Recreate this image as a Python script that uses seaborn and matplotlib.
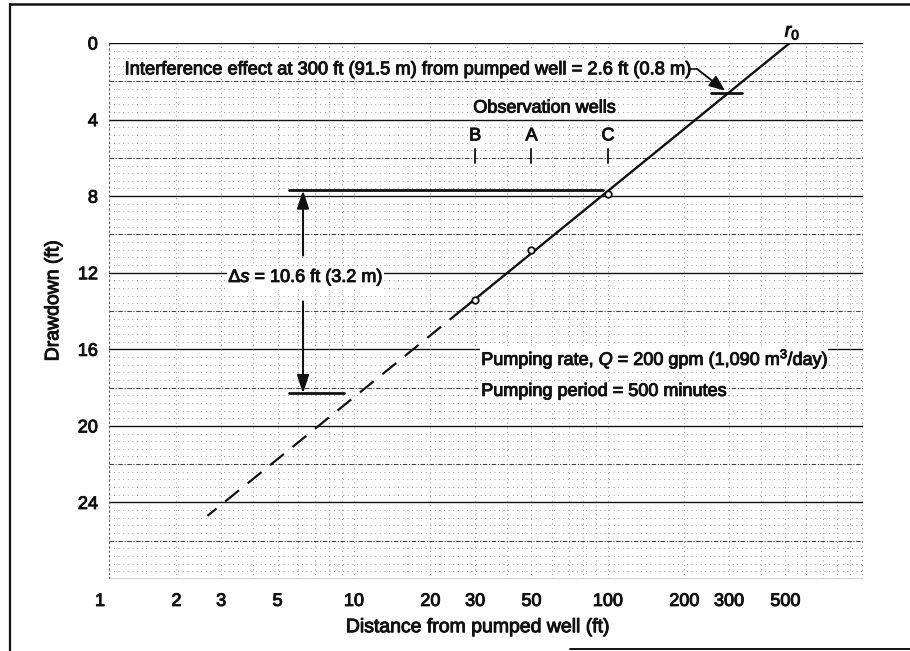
import matplotlib
matplotlib.use("Agg")
import matplotlib.pyplot as plt
import matplotlib.patheffects as pe
from matplotlib.lines import Line2D
import numpy as np
import seaborn as sns

# ---------------- data ----------------
well_names = ["B", "A", "C"]
well_distance_ft = [30, 50, 100]
well_drawdown_ft = [13.4, 10.8, 7.9]

solid_distance_ft = [520, 27]
solid_drawdown_ft = [0.0, 13.87]
dashed_distance_ft = [27, 2.65]
dashed_drawdown_ft = [13.87, 24.7]

x_tick_values = [1, 2, 3, 5, 10, 20, 30, 50, 100, 200, 300, 500]
y_tick_values = [0, 4, 8, 12, 16, 20, 24]

delta_s_ft = 10.6
delta_s_top_ft = 7.7
delta_s_bottom_ft = delta_s_top_ft + delta_s_ft
interference_distance_ft = 300
interference_drawdown_ft = 2.6

# ---------------- style ----------------
sns.set_theme(style="white")
plt.rcParams['font.family'] = ['Liberation Sans', 'DejaVu Sans']
plt.rcParams['mathtext.fontset'] = 'custom'
plt.rcParams['mathtext.rm'] = 'Liberation Sans'
plt.rcParams['mathtext.it'] = 'Liberation Sans:italic'
plt.rcParams['mathtext.bf'] = 'Liberation Sans:bold'

INK = '#111111'
thick = [pe.withStroke(linewidth=0.7, foreground=INK)]

fig = plt.figure(figsize=(9.10, 6.51), dpi=100)
ax = fig.add_axes([109 / 910, 1 - 579 / 651, (863 - 109) / 910, (579 - 43) / 651])
ax.set_xscale('log')
XMIN, XMAX = 1.085, 1010
ax.set_xlim(XMIN, XMAX)
ax.set_ylim(28, 0)

# ---------------- graph-paper grid ----------------
for v in np.arange(0, 28.001, 0.4):
    v = round(v, 2)
    if abs(v % 4) < 1e-6 or abs(v % 4 - 4) < 1e-6:
        ax.axhline(v, color=INK, lw=1.0, zorder=1)
    elif abs(v % 2) < 1e-6 or abs(v % 2 - 2) < 1e-6:
        ax.axhline(v, color='#444444', lw=0.8, ls=(0, (4, 1.5, 1, 1.5)), zorder=1)
    else:
        ax.axhline(v, color='#777777', lw=0.6, ls=(0, (1, 4.5)), zorder=1)
for dec in [1, 10, 100, 1000]:
    for m in range(1, 10):
        xv = m * dec
        if XMIN <= xv <= XMAX:
            ax.axvline(xv, color='#777777', lw=0.6, ls=(0, (1, 4.5)), zorder=1)
ax.axvline(XMIN, color='#555555', lw=0.8, ls=(0, (2, 2)), zorder=1)

for sp in ax.spines.values():
    sp.set_visible(False)

# ---------------- data marks ----------------
sns.lineplot(x=solid_distance_ft, y=solid_drawdown_ft, ax=ax, color=INK,
             lw=1.7, sort=False, zorder=4)
sns.lineplot(x=dashed_distance_ft, y=dashed_drawdown_ft, ax=ax, color=INK,
             lw=1.6, sort=False, zorder=4)
ax.lines[-1].set_dashes([8, 5])
sns.scatterplot(x=well_distance_ft, y=well_drawdown_ft, ax=ax, marker='o', s=22,
                facecolor='white', edgecolor=INK, linewidth=1.3, zorder=6)

# ---------------- ticks & labels ----------------
in_range = [v for v in x_tick_values if XMIN <= v <= XMAX]
ax.set_xticks(in_range)
ax.set_xticklabels([str(v) for v in in_range])
for v in x_tick_values:
    if v < XMIN:
        ax.text(v, 1.0, str(v), transform=ax.get_xaxis_transform(), ha='center',
                va='top', fontsize=13, color=INK, clip_on=False, path_effects=thick)
        ax.texts[-1].set_y(-0.026)
ax.xaxis.set_minor_locator(matplotlib.ticker.NullLocator())
ax.set_yticks(y_tick_values)
ax.set_yticklabels([str(v) for v in y_tick_values])
ax.tick_params(axis='x', length=0, pad=10, labelsize=13, colors=INK)
ax.tick_params(axis='y', length=0, pad=8, labelsize=13, colors=INK)
for t in ax.get_xticklabels() + ax.get_yticklabels():
    t.set_path_effects(thick)

ax.set_xlabel("Distance from pumped well (ft)", fontsize=14, color=INK, path_effects=thick)
ax.set_ylabel("Drawdown (ft)", fontsize=14, color=INK, path_effects=thick)
ax.xaxis.set_label_coords(0.49, -0.075)
ax.yaxis.set_label_coords(-0.062, 0.52)

# ---------------- annotations ----------------
wbox = dict(facecolor='white', edgecolor='none', pad=0.6)
ax.text(1.25, 1.4,
        "Interference effect at 300 ft (91.5 m) from pumped well = 2.6 ft (0.8 m)",
        fontsize=13.2, color=INK, ha='left', va='center', bbox=wbox, zorder=7,
        path_effects=thick)
ax.plot([208, 224], [1.35, 1.35], color=INK, lw=1.2, zorder=7)
ax.annotate("", xy=(interference_distance_ft * 0.965, interference_drawdown_ft - 0.1),
            xytext=(224, 1.35),
            arrowprops=dict(arrowstyle='-|>,head_length=0.8,head_width=0.32',
                            color=INK, lw=1.4, shrinkA=0, shrinkB=0), zorder=7)
ax.plot([interference_distance_ft * 0.85, interference_distance_ft * 1.12],
        [interference_drawdown_ft, interference_drawdown_ft], color=INK, lw=2.0, zorder=7)

ax.text(497, -0.55, "$r_0$", fontsize=14, color=INK, ha='left', va='center',
        clip_on=False, path_effects=thick)

ax.text(29.5, 3.4, "Observation wells", fontsize=13, color=INK, ha='left',
        va='center', bbox=wbox, zorder=7, path_effects=thick)
for name, d in zip(well_names, well_distance_ft):
    ax.text(d, 4.85, name, fontsize=13, color=INK, ha='center', va='center',
            bbox=dict(facecolor='white', edgecolor='none', pad=0.3), zorder=7,
            path_effects=thick)
    ax.plot([d, d], [5.55, 6.25], color=INK, lw=1.3, zorder=7)

# delta s bracket
ax.plot([5.56, 95.6], [delta_s_top_ft, delta_s_top_ft], color=INK, lw=2.0, zorder=7)
ax.plot([5.56, 9.1], [delta_s_bottom_ft, delta_s_bottom_ft], color=INK, lw=2.0, zorder=7)
ax.annotate("", xy=(6.3, delta_s_top_ft), xytext=(6.3, 11.1),
            arrowprops=dict(arrowstyle='-|>,head_length=0.9,head_width=0.3',
                            color=INK, lw=1.5, shrinkA=0, shrinkB=0), zorder=7)
ax.annotate("", xy=(6.3, delta_s_bottom_ft), xytext=(6.3, 13.5),
            arrowprops=dict(arrowstyle='-|>,head_length=0.9,head_width=0.3',
                            color=INK, lw=1.5, shrinkA=0, shrinkB=0), zorder=7)
ax.text(6.45, 12.25, "Δ$s$ = 10.6 ft (3.2 m)", fontsize=13, color=INK, ha='center',
        va='center', bbox=wbox, zorder=7, path_effects=thick)

ax.text(31.7, 16.5, "Pumping rate, $Q$ = 200 gpm (1,090 m$^3$/day)", fontsize=13,
        color=INK, ha='left', va='center', bbox=wbox, zorder=7, path_effects=thick)
ax.text(31.7, 18.2, "Pumping period = 500 minutes", fontsize=13, color=INK,
        ha='left', va='center', bbox=wbox, zorder=7, path_effects=thick)

# ---------------- page frame ----------------
fig.add_artist(Line2D([0.011, 0.011], [0.0, 0.994], transform=fig.transFigure,
                      color=INK, lw=1.6))
fig.add_artist(Line2D([0.011, 1.0], [0.994, 0.994], transform=fig.transFigure,
                      color=INK, lw=1.8))
fig.add_artist(Line2D([0.626, 1.0], [0.003, 0.003], transform=fig.transFigure,
                      color=INK, lw=1.4))

fig.savefig("out.png", dpi=100)
